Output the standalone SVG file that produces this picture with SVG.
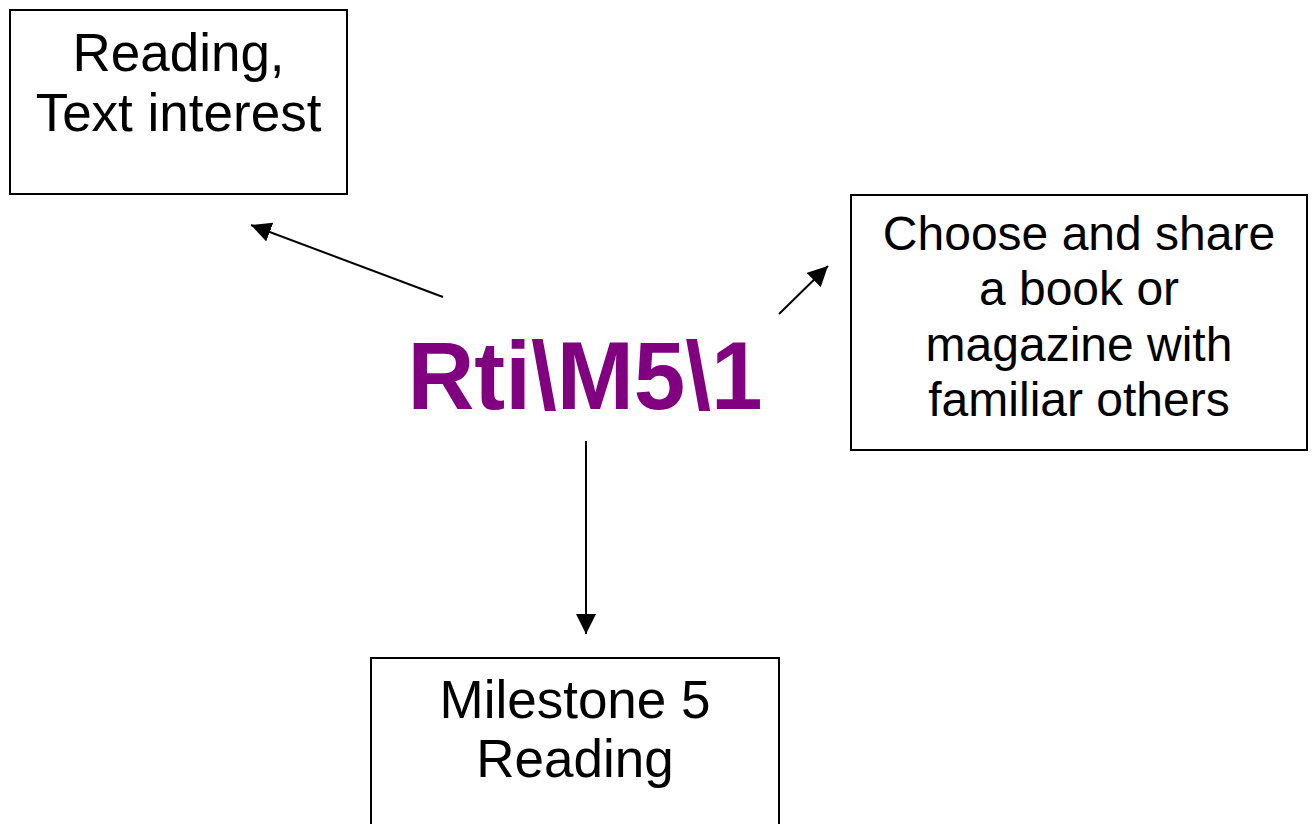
<svg xmlns="http://www.w3.org/2000/svg" width="1315" height="824" viewBox="0 0 1315 824">
<style>
.box{fill:#fff;stroke:#000;stroke-width:2}
.lbl{font-family:"Liberation Sans",Arial,sans-serif;fill:#000;text-anchor:middle}
.conn{stroke:#000;stroke-width:2;fill:none;marker-end:url(#ah)}
</style>
<defs>
<marker id="ah" viewBox="0 0 20 20" refX="20" refY="10" markerWidth="20" markerHeight="20" markerUnits="userSpaceOnUse" orient="auto">
<path d="M0,0 L20,10 L0,20 z" fill="#000"/>
</marker>
</defs>
<rect width="1315" height="824" fill="#fff"/>
<g id="node-reading-text-interest">
<rect class="box" x="10" y="10" width="337" height="184"/>
<text class="lbl" font-size="53" x="178.5" y="71">Reading,</text>
<text class="lbl" font-size="53" x="178.5" y="131">Text interest</text>
</g>
<g id="node-choose-share">
<rect class="box" x="851" y="195" width="456" height="255"/>
<text class="lbl" font-size="48" x="1079" y="250">Choose and share</text>
<text class="lbl" font-size="48" x="1079" y="305">a book or</text>
<text class="lbl" font-size="48" x="1079" y="361">magazine with</text>
<text class="lbl" font-size="48" x="1079" y="416">familiar others</text>
</g>
<g id="node-milestone">
<rect class="box" x="371" y="658" width="408" height="180"/>
<text class="lbl" font-size="53" x="575" y="718">Milestone 5</text>
<text class="lbl" font-size="53" x="575" y="777">Reading</text>
</g>
<g id="node-center">
<text x="585" y="409" font-family="'Liberation Sans',Arial,sans-serif" font-weight="bold" font-size="96" fill="#800080" text-anchor="middle" textLength="355" lengthAdjust="spacingAndGlyphs">Rti\M5\1</text>
</g>
<g id="connectors">
<path class="conn" d="M443,297 L251,225"/>
<path class="conn" d="M779,314 L828,266"/>
<path class="conn" d="M586,441 L586,634"/>
</g>
</svg>
